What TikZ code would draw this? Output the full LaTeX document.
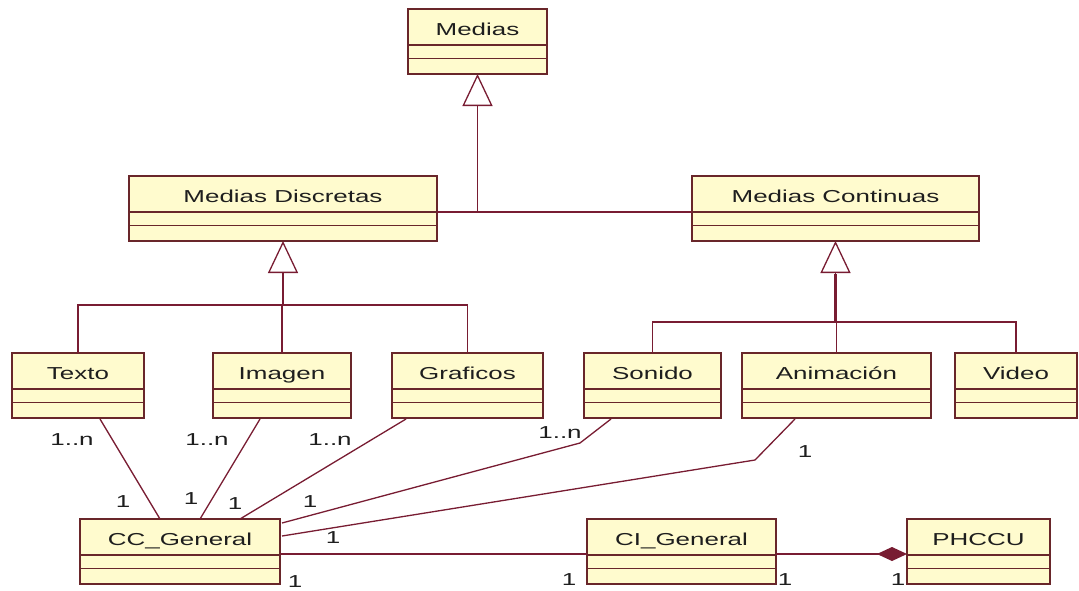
\documentclass[tikz,border=0pt]{standalone}
\usepackage{fontspec}
\newfontfamily\umlfont[FakeStretch=1.5]{Liberation Sans}
\usetikzlibrary{arrows.meta,calc}
\definecolor{umlfill}{RGB}{255,251,206}
\definecolor{umlline}{RGB}{120,28,50}
\definecolor{umlborder}{RGB}{105,38,42}
\definecolor{umltext}{RGB}{30,30,30}
\newcommand{\umlclass}[5]{%
  \node[classbox, minimum width=#4pt] (#1) at (#2,#3) {};
  \node[title] (#1-t) at ($(#1.north)+(0,26.5)$) {#5};
  \draw[divider] ($(#1.north west)+(0,36)$) -- ($(#1.north east)+(0,36)$);
  \draw[divider] ($(#1.north west)+(0,49.5)$) -- ($(#1.north east)+(0,49.5)$);
}
\begin{document}
\begin{tikzpicture}[x=1pt,y=-1pt,
  classbox/.style={draw=umlborder, fill=umlfill, line width=1.5pt, inner sep=0pt, outer sep=0pt, anchor=north west, minimum height=65pt},
  title/.style={font=\umlfont\fontsize{17.3}{19}\selectfont, text=umltext, anchor=base, inner sep=0pt},
  mult/.style={font=\umlfont\fontsize{17.3}{19}\selectfont, text=umltext, inner sep=0pt},
  divider/.style={draw=umlborder, line width=1.5pt},
  conn/.style={draw=umlline, line width=1.3pt},
  gen/.style={conn, -{Triangle[open, length=32pt, width=30pt, fill=white]}},
  comp/.style={conn, -{Diamond[length=30pt, width=14pt, fill=umlline]}}
]
\fill[white] (0,0) rectangle (1079,590);
\useasboundingbox (0,0) rectangle (1079,590);

% classes
\umlclass{Medias}{408}{9}{139}{Medias}
\umlclass{MD}{129}{176}{308}{Medias Discretas}
\umlclass{MC}{692}{176}{287}{Medias Continuas}
\umlclass{Texto}{12}{353}{132}{Texto}
\umlclass{Imagen}{213}{353}{138}{Imagen}
\umlclass{Graficos}{392}{353}{151}{Graficos}
\umlclass{Sonido}{584}{353}{137}{Sonido}
\umlclass{Anim}{742}{353}{189}{Animación}
\umlclass{Video}{955}{353}{122}{Video}
\umlclass{CC}{80}{519}{200}{CC\_General}
\umlclass{CI}{587}{519}{189}{CI\_General}
\umlclass{PH}{907}{519}{143}{PHCCU}

% generalization: Medias
\path (Medias.south) ++(0,138) coordinate (jM);
\draw[conn] ($(MD.north east)+(0,36)$) -- ($(MC.north west)+(0,36)$);
\draw[gen] (jM) -- (Medias.south);

% generalization: Medias Discretas
\path (MD.south) ++(0,64) coordinate (jD);
\draw[conn] (Texto.north) |- (jD) -| (Graficos.north);
\draw[conn] (Imagen.north) -- (Imagen.north |- jD);
\draw[gen] (jD) -- (MD.south);

% generalization: Medias Continuas
\path (MC.south) ++(0,81) coordinate (jC);
\draw[conn] (Sonido.north) |- (jC) -| (Video.north);
\draw[conn] (Anim.north) -- (Anim.north |- jC);
\draw[gen] (jC) -- (MC.south);
\draw[draw=umlline, line width=2.6pt] (jC) -- ($(MC.south)+(0,33)$);

% associations to CC_General
\draw[conn] ($(Texto.south west)+(88,1)$) -- ($(CC.north west)+(80,0)$);
\draw[conn] ($(Imagen.south west)+(47,1)$) -- ($(CC.north west)+(120,0)$);
\draw[conn] ($(Graficos.south west)+(14,1)$) -- ($(CC.north west)+(160,0)$);
\coordinate (bS) at (580,443);
\draw[conn] ($(Sonido.south west)+(27,1)$) -- (bS) -- ($(CC.north east)+(2,4)$);
\coordinate (bA) at (755,460);
\draw[conn] ($(Anim.south west)+(53,1)$) -- (bA) -- ($(CC.north east)+(2,17)$);
\draw[conn] ($(CC.north east)+(0,35)$) -- ($(CI.north west)+(0,35)$);
\draw[comp] ($(CI.north east)+(0,35)$) -- ($(PH.north west)+(0,35)$);

% multiplicities
\node[mult] (m1) at (72,440) {1..n};
\node[mult] (m2) at (207,440) {1..n};
\node[mult] (m3) at (330,440) {1..n};
\node[mult] (m4) at (560,433) {1..n};
\node[mult] (m5) at (123,502) {1};
\node[mult] (m6) at (191,499) {1};
\node[mult] (m7) at (235,504) {1};
\node[mult] (m8) at (310,502) {1};
\node[mult] (m9) at (333,538) {1};
\node[mult] (m10) at (295,582) {1};
\node[mult] (m11) at (805,452) {1};
\node[mult] (m12) at (569,580) {1};
\node[mult] (m13) at (785,580) {1};
\node[mult] (m14) at (898,580) {1};
\end{tikzpicture}
\end{document}
